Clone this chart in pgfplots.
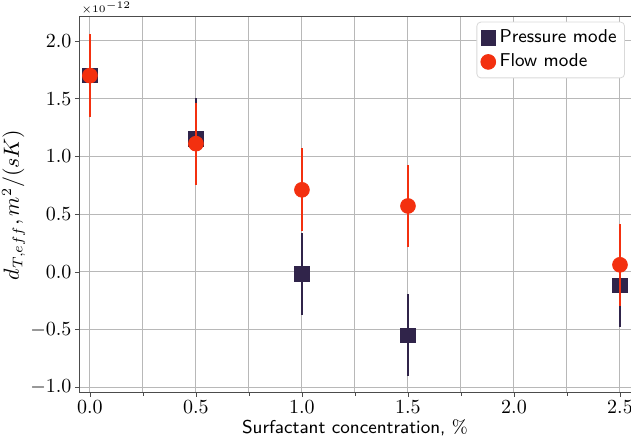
\documentclass[border=0pt]{standalone}
\usepackage{pgfplots}
\pgfplotsset{compat=1.18}
\definecolor{press}{HTML}{30244A}
\definecolor{flow}{HTML}{F3300F}
\begin{document}
\begin{tikzpicture}[trim axis right]
\begin{axis}[
  scale only axis, width=276pt, height=188pt,
  clip mode=individual,
  xmin=-0.052, xmax=2.552, ymin=-1.05, ymax=2.21,
  xtick={0,0.5,1,1.5,2,2.5},
  minor xtick={0.25,0.75,1.25,1.75,2.25},
  ytick={-1,-0.5,0,0.5,1,1.5,2},
  grid=both,
  major grid style={black!28, line width=0.5pt},
  minor grid style={black!28, line width=0.5pt},
  tick align=outside, tick pos=left,
  major tick length=2pt, minor tick length=1.5pt,
  tick style={black!70},
  axis line style={black!70},
  scaled y ticks=false,
  xticklabel style={inner sep=1.5pt, /pgf/number format/.cd, fixed, fixed zerofill, precision=1},
  yticklabel style={inner sep=1.5pt, /pgf/number format/.cd, fixed, fixed zerofill, precision=1},
  xlabel={\fontsize{9.3}{11}\selectfont\textsf{Surfactant concentration,} \%},
  xlabel style={inner sep=1.5pt},
  ylabel={\fontsize{10.5}{12}\selectfont$d_{T,eff}, m^2/(sK)$},
  ylabel style={inner sep=1pt},
  legend style={at={(0.989,0.987)}, anchor=north east, rounded corners=2pt,
    draw=black!15, font=\fontsize{9.3}{11}\selectfont\sffamily, inner sep=2pt},
  legend cell align=left,
]
\addplot[only marks, mark=square*, mark size=3.6pt, color=press, fill=press,
  error bars/.cd, y dir=both, y explicit, error mark=none,
  error bar style={line width=1pt, color=press}]
  coordinates {
  (0,1.70) +- (0,0.355)
  (0.5,1.15) +- (0,0.355)
  (1.0,-0.02) +- (0,0.355)
  (1.5,-0.55) +- (0,0.355)
  (2.5,-0.12) +- (0,0.355)
  };
\addlegendentry{Pressure mode}
\addplot[only marks, mark=*, mark size=3.7pt, color=flow, fill=flow,
  error bars/.cd, y dir=both, y explicit, error mark=none,
  error bar style={line width=1pt, color=flow}]
  coordinates {
  (0,1.70) +- (0,0.36)
  (0.5,1.11) +- (0,0.355)
  (1.0,0.71) +- (0,0.36)
  (1.5,0.57) +- (0,0.355)
  (2.5,0.06) +- (0,0.355)
  };
\addlegendentry{Flow mode}
\node[anchor=south west, inner sep=1pt, font=\tiny] at (rel axis cs:0,1) {$\times10^{-12}$};
\end{axis}
\end{tikzpicture}
\end{document}
